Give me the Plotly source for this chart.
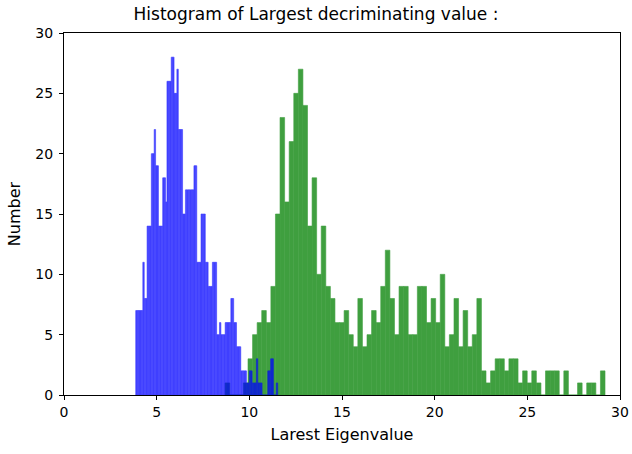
import numpy as np
import plotly.graph_objects as go

# Blue histogram: 100 bins
blue_start = 3.87
blue_width = 0.0766
blue_counts = [7, 7, 7, 7, 7, 11, 8, 8, 14, 14,
               14, 20, 20, 22, 19, 19, 14, 14, 14, 18,
               18, 16, 26, 26, 26, 28, 28, 25, 25, 27,
               22, 22, 22, 15, 15, 17, 17, 17, 17, 17,
               17, 19, 19, 11, 11, 11, 15, 15, 15, 11,
               11, 9, 9, 9, 11, 11, 11, 5, 5, 6,
               5, 5, 5, 6, 6, 6, 6, 8, 8, 6,
               6, 4, 4, 4, 2, 2, 2, 2, 1, 1,
               2, 2, 1, 1, 1, 3, 1, 1, 1, 0,
               0, 0, 0, 2, 2, 3, 3, 0, 0, 1]

# Green histogram
green_start = 8.693
green_width = 0.24697
green_counts = [1, 0, 0, 0, 1, 3, 5, 6, 7, 6,
                9, 15, 23, 16, 21, 25, 27, 24, 14, 18,
                10, 14, 9, 8, 6, 6, 7, 5, 4, 8,
                4, 5, 7, 6, 9, 12, 8, 5, 9, 9,
                5, 5, 9, 9, 6, 8, 6, 10, 4, 5,
                8, 4, 7, 4, 5, 8, 2, 1, 2, 3,
                3, 2, 3, 3, 1, 2, 1, 2, 1, 0,
                2, 2, 2, 0, 2, 0, 0, 1, 0, 1,
                1, 0, 2]

tick_vals = [0, 5, 10, 15, 20, 25, 30]

blue_centers = blue_start + blue_width * (np.arange(len(blue_counts)) + 0.5)
green_centers = green_start + green_width * (np.arange(len(green_counts)) + 0.5)

fig = go.Figure()
fig.add_trace(go.Bar(x=green_centers, y=green_counts, width=green_width, opacity=0.75,
                     marker=dict(color="rgb(0,128,0)", line=dict(width=0.6, color="rgb(0,128,0)"))))
fig.add_trace(go.Bar(x=blue_centers, y=blue_counts, width=blue_width, opacity=0.75,
                     marker=dict(color="rgb(0,0,255)", line=dict(width=0.6, color="rgb(0,0,255)"))))

font = "DejaVu Sans"
axis_common = dict(
    range=[0, 30], tickvals=tick_vals, ticks="outside", ticklen=4, tickwidth=1,
    tickcolor="black", showline=True, mirror=True, linecolor="black", linewidth=1,
    showgrid=False, zeroline=False, tickfont=dict(family=font, size=14, color="black"),
)

fig.update_layout(
    template="none",
    width=632, height=454,
    margin=dict(l=64, r=12, t=33, b=59),
    barmode="overlay",
    showlegend=False,
    plot_bgcolor="white", paper_bgcolor="white",
    title=dict(text="Histogram of Largest decriminating value :",
               font=dict(family=font, size=17, color="black"),
               x=0.5, xref="container", xanchor="center",
               y=1 - 14 / 454, yref="container", yanchor="middle"),
    xaxis=dict(**axis_common, title=dict(text="Larest Eigenvalue", standoff=10,
                                         font=dict(family=font, size=16, color="black"))),
    yaxis=dict(**axis_common, ticklabelstandoff=3,
               title=dict(text="Number", standoff=10,
                          font=dict(family=font, size=16, color="black"))),
)

fig.write_html("out.html")
